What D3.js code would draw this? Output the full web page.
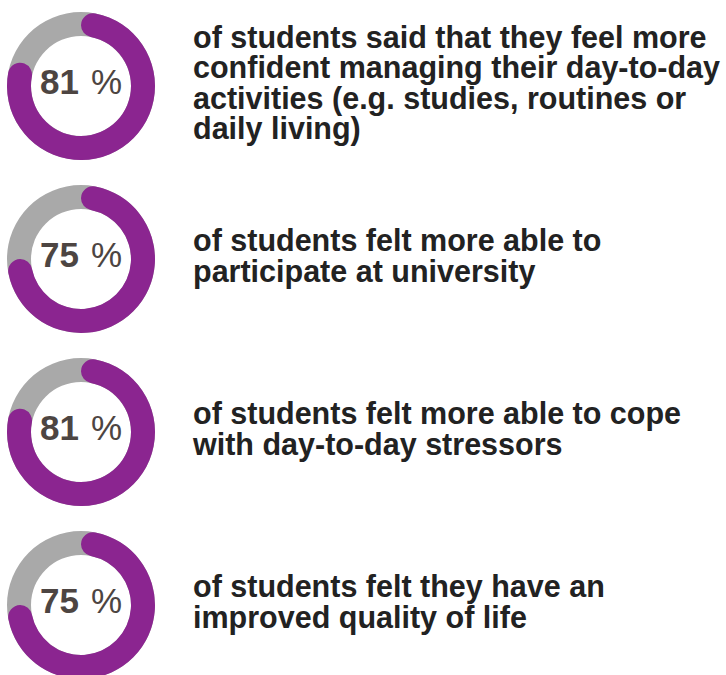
<!DOCTYPE html>
<html>
<head>
<meta charset="utf-8">
<script src="https://cdn.jsdelivr.net/npm/d3@7/dist/d3.min.js"></script>
<style>
  html, body { margin: 0; padding: 0; background: #ffffff; }
  svg { display: block; }
</style>
</head>
<body>
<svg id="chart" width="726" height="675"></svg>
<script>
// ---- data ----
const values = [81, 75, 81, 75];
const labels = [
  ["of students said that they feel more", "confident managing their day-to-day", "activities (e.g. studies, routines or", "daily living)"],
  ["of students felt more able to", "participate at university"],
  ["of students felt more able to cope", "with day-to-day stressors"],
  ["of students felt they have an", "improved quality of life"]
];

// ---- layout ----
const cx = 81, outerR = 74, innerR = 50;
const textX = 193, lineH = 30.6;
const purple = "#8b2590", grey = "#a9a9a9", pctColor = "#4d4542", textColor = "#222222";

const svg = d3.select("#chart");

const y = d3.scalePoint().domain(d3.range(values.length)).range([86, 605]);
const angle = d3.scaleLinear().domain([0, 100]).range([0, 2 * Math.PI]);

const bgArc = d3.arc().innerRadius(innerR).outerRadius(outerR).startAngle(0).endAngle(2 * Math.PI);
const valArc = d3.arc().innerRadius(innerR).outerRadius(outerR)
  .cornerRadius((outerR - innerR) / 2)
  .startAngle(0).endAngle(d => angle(d));

const rows = svg.selectAll("g.row").data(values).join("g")
  .attr("class", "row")
  .attr("transform", (d, i) => `translate(0,${y(i)})`);

rows.append("path").attr("transform", `translate(${cx},0)`).attr("d", bgArc()).attr("fill", grey);
rows.append("path").attr("transform", `translate(${cx},0)`).attr("d", d => valArc(d)).attr("fill", purple);

const pct = rows.append("text")
  .attr("x", cx)
  .attr("y", 8)
  .attr("text-anchor", "middle")
  .attr("fill", pctColor)
  .style("font-family", "'Liberation Sans Narrow', 'Liberation Sans', sans-serif")
  .style("font-size", "35px");
pct.append("tspan").style("font-weight", 700).text(d => String(d));
pct.append("tspan").attr("dx", 12).style("font-weight", 400).text("%");

rows.each(function(d, i) {
  const lines = labels[i];
  const g = d3.select(this);
  const first = 7.5 - (lines.length - 1) * lineH / 2;
  const t = g.append("text")
    .attr("fill", textColor)
    .style("font-family", "'Liberation Sans', Arial, sans-serif")
    .style("font-weight", 700)
    .style("font-size", "30.5px");
  t.selectAll("tspan").data(lines).join("tspan")
    .attr("x", textX)
    .attr("y", (l, k) => first + k * lineH)
    .text(l => l);
});
</script>
</body>
</html>
